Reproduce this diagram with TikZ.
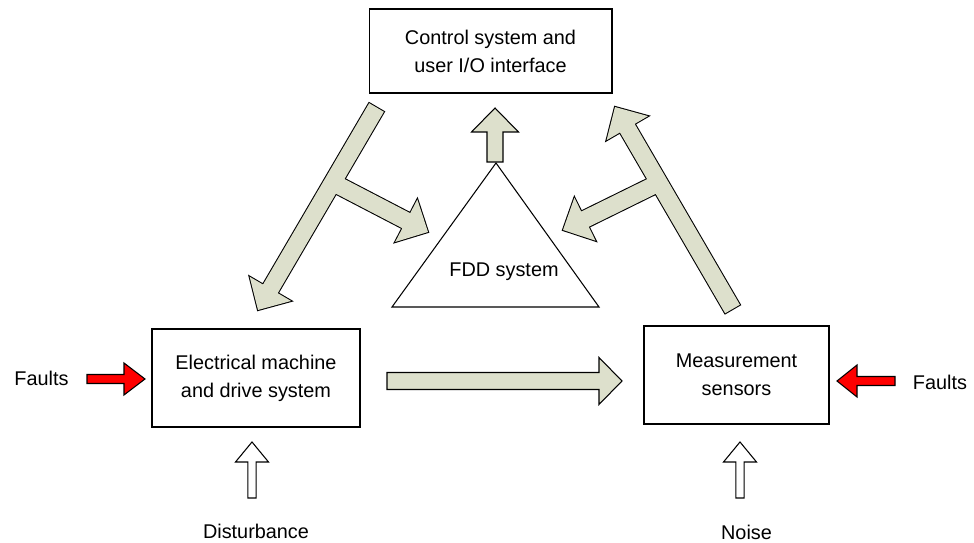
\documentclass[tikz,border=0pt]{standalone}
\usepackage{fontspec}
\setmainfont{Liberation Sans}
\usetikzlibrary{calc}

\definecolor{arrowgreen}{RGB}{221,224,204}

% block arrow: [style]{from}{to}{half shaft}{half head}{head length}
\newcommand\fatarrow[6][]{%
  \coordinate (fa-h) at ($(#3)!#6!(#2)$);
  \path[#1] ($(#2)!#4!90:(#3)$) -- ($(fa-h)!#4!90:(#3)$) -- ($(fa-h)!#5!90:(#3)$) -- (#3)
    -- ($(fa-h)!#5!-90:(#3)$) -- ($(fa-h)!#4!-90:(#3)$) -- ($(#2)!#4!-90:(#3)$) -- cycle;}

\begin{document}
\begin{tikzpicture}[x=0.02cm, y=-0.02cm, line width=0.6pt,
  txt/.style={font=\fontsize{11.3}{15.9}\selectfont, align=center},
  box/.style={txt, draw, minimum width=#1, minimum height=1.96cm},
  greenarrow/.style={draw, fill=arrowgreen},
  outline/.style={draw, line width=1.2pt},
  body/.style={fill=arrowgreen},
  redarrow/.style={draw, fill=red},
  whitearrow/.style={draw, fill=white}]
\useasboundingbox (0,0) rectangle (974,543);

\node[box=4.86cm, minimum height=1.68cm] (ctrl) at (490.5,51) {Control system and\\user I/O interface};
\node[box=4.16cm] (machine) at (256,378) {Electrical machine\\and drive system};
\node[box=3.7cm] (sensors) at (736.5,375) {Measurement\\sensors};

\coordinate (apex) at (496,163);
\coordinate (bl) at (392,307);
\coordinate (br) at (599,307);
\draw (apex) -- (bl) -- (br) -- cycle;
\node[txt] (fdd) at (504,272) {FDD system};

\coordinate (l1) at (376.5,107.5);
\coordinate (l2) at (258,310);
\coordinate (lj) at ($(l1)!0.37!(l2)$);
\coordinate (l3) at (428,232);
\coordinate (r1) at (732.5,309);
\coordinate (r2) at (615,107);
\coordinate (rj) at ($(r1)!0.625!(r2)$);
\coordinate (r3) at (563,230);
\coordinate (u1) at (495,162);
\coordinate (u2) at (495,108);
\coordinate (h1) at (387,381);
\coordinate (h2) at (622,381);

\fatarrow[outline]{l1}{l2}{0.17cm}{0.48cm}{0.49cm}
\fatarrow[outline]{lj}{l3}{0.17cm}{0.48cm}{0.49cm}
\fatarrow[body]{l1}{l2}{0.17cm}{0.48cm}{0.49cm}
\fatarrow[body]{lj}{l3}{0.17cm}{0.48cm}{0.49cm}

\fatarrow[outline]{r1}{r2}{0.17cm}{0.48cm}{0.49cm}
\fatarrow[outline]{rj}{r3}{0.17cm}{0.48cm}{0.49cm}
\fatarrow[body]{r1}{r2}{0.17cm}{0.48cm}{0.49cm}
\fatarrow[body]{rj}{r3}{0.17cm}{0.48cm}{0.49cm}

\fatarrow[greenarrow]{u1}{u2}{0.16cm}{0.47cm}{0.48cm}
\fatarrow[greenarrow]{h1}{h2}{0.17cm}{0.47cm}{0.46cm}

\node[txt] (faultsl) at (41.5,378) {Faults};
\node[txt] (faultsr) at (940,382) {Faults};
\node[txt] (dist) at (256,531) {Disturbance};
\node[txt] (noise) at (746.5,532) {Noise};

\coordinate (fl1) at (87,379);
\coordinate (fl2) at (145,379);
\coordinate (fr1) at (895,381);
\coordinate (fr2) at (837,381);
\coordinate (wl1) at (252,498);
\coordinate (wl2) at (252,442);
\coordinate (wr1) at (740,498);
\coordinate (wr2) at (740,442);

\fatarrow[redarrow]{fl1}{fl2}{0.09cm}{0.32cm}{0.42cm}
\fatarrow[redarrow]{fr1}{fr2}{0.09cm}{0.32cm}{0.40cm}
\fatarrow[whitearrow]{wl1}{wl2}{0.084cm}{0.33cm}{0.4cm}
\fatarrow[whitearrow]{wr1}{wr2}{0.084cm}{0.33cm}{0.4cm}
\end{tikzpicture}
\end{document}
